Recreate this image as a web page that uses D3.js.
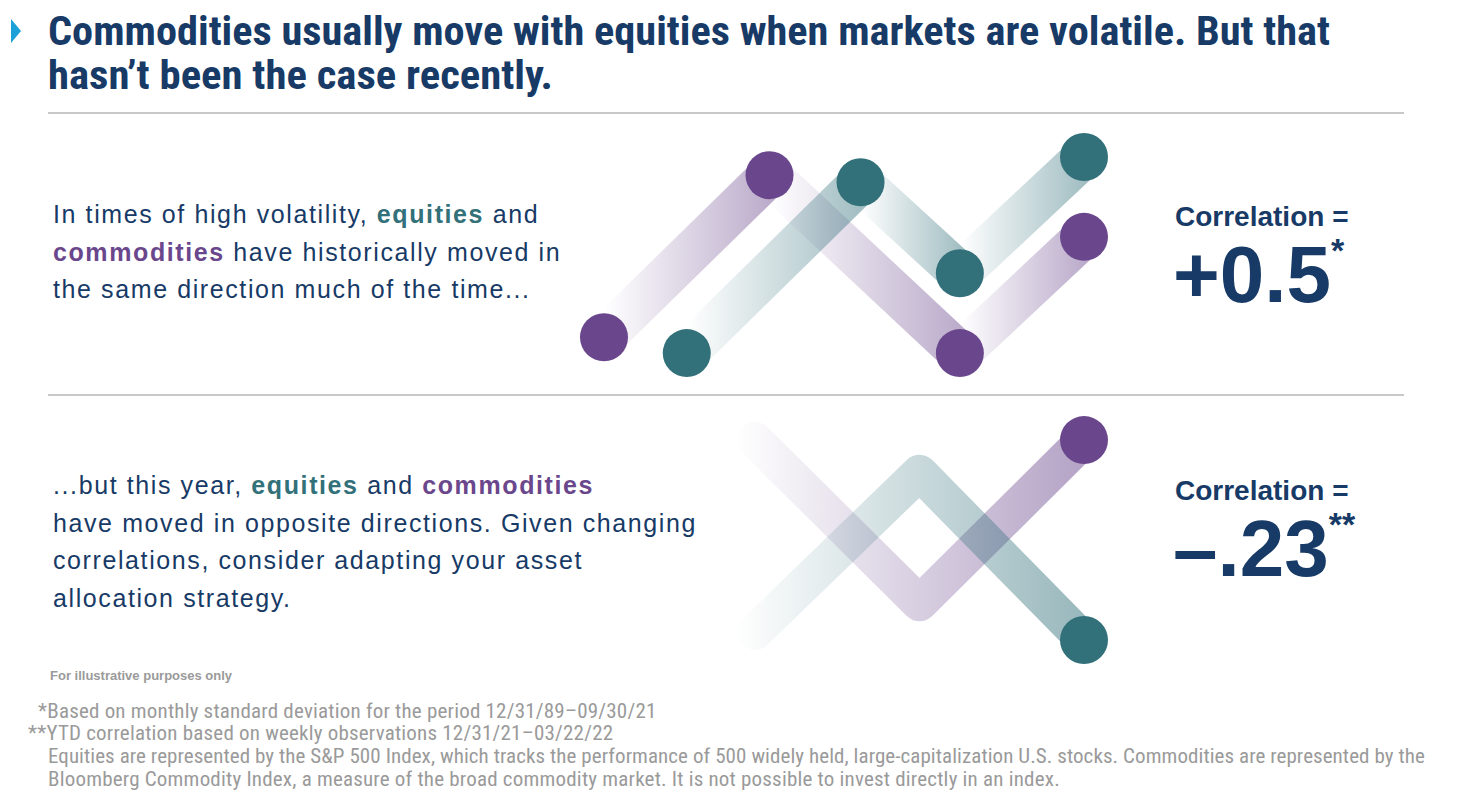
<!DOCTYPE html>
<html><head><meta charset="utf-8">
<script src="https://cdn.jsdelivr.net/npm/d3@7"></script>
<style>body{margin:0;background:#fff}</style>
</head><body>
<script>
// abstract positions of the illustrative lines (x step, level)
let topEqX = [0.5, 1.55, 2.15, 2.9], topEqY = [0.1, 2.26, 1.11, 2.58];
let topCoX = [0, 1, 2.15, 2.9],     topCoY = [0.3, 2.35, 0.1, 1.57];
let botEqX = [0, 1, 2],  botEqY = [0.1, 2.05, 0];
let botCoX = [0, 1, 2],  botCoY = [2.45, 0.45, 2.45];
let teal = "#32707a", purple = "#6a478c", navy = "#173a66", grey = "#9a9a9a";

let W = 1458, H = 802;
let svg = d3.select("body").append("svg").attr("width", W).attr("height", H)
            .style("font-family", "'Liberation Sans Narrow','Roboto Condensed','DejaVu Sans Condensed',sans-serif");
let defs = svg.append("defs");

let xTop = d3.scaleLinear().domain([0, 2.9]).range([604, 1084]);
let yTop = d3.scaleLinear().domain([0, 2.6]).range([361, 155.4]);
let xBot = d3.scaleLinear().domain([0, 2]).range([755, 1084]);
let yBot = d3.scaleLinear().domain([0, 2.5]).range([640, 436]);

let gid = 0;
function grad(color, x1, x2, op) {
  let id = "g" + (gid++);
  let g = defs.append("linearGradient").attr("id", id).attr("gradientUnits", "userSpaceOnUse")
    .attr("x1", x1).attr("x2", x2).attr("y1", 0).attr("y2", 0);
  g.append("stop").attr("offset", 0).attr("stop-color", color).attr("stop-opacity", 0);
  g.append("stop").attr("offset", 1).attr("stop-color", color).attr("stop-opacity", op);
  return "url(#" + id + ")";
}

// top: each segment fades in left-to-right
function topSeries(xs, ys, color) {
  for (let i = 0; i < xs.length - 1; i++) {
    let x1 = xTop(xs[i]), x2 = xTop(xs[i+1]);
    svg.append("line").attr("x1", x1).attr("y1", yTop(ys[i])).attr("x2", x2).attr("y2", yTop(ys[i+1]))
       .attr("stroke", grad(color, Math.min(x1,x2), Math.max(x1,x2), 0.45)).attr("stroke-width", 42);
  }
}
topSeries(topCoX, topCoY, purple);
topSeries(topEqX, topEqY, teal);
[[topCoX, topCoY, purple], [topEqX, topEqY, teal]].forEach(function(s) {
  svg.selectAll(null).data(s[0]).enter().append("circle")
     .attr("cx", d => xTop(d)).attr("cy", (d, i) => yTop(s[1][i])).attr("r", 24).attr("fill", s[2]);
});

// bottom: whole path fades in
let line = d3.line();
[[botCoX, botCoY, purple], [botEqX, botEqY, teal]].forEach(function(s) {
  let pts = s[0].map((d, i) => [xBot(d), yBot(s[1][i])]);
  svg.append("path").attr("d", line(pts)).attr("fill", "none")
     .attr("stroke", grad(s[2], xBot(0) - 20, xBot(2), 0.5)).attr("stroke-width", 36)
     .attr("stroke-linejoin", "round").attr("stroke-linecap", "round");
});
[[botCoX, botCoY, purple], [botEqX, botEqY, teal]].forEach(function(s) {
  let n = s[0].length - 1;
  svg.append("circle").attr("cx", xBot(s[0][n])).attr("cy", yBot(s[1][n])).attr("r", 24).attr("fill", s[2]);
});

// title
svg.append("path").attr("d", "M11,19 L21,31 L11,43 Z").attr("fill", "#1ba0d8");
let title = svg.append("text").attr("fill", navy).attr("font-weight", "bold").attr("font-size", 40);
title.append("tspan").attr("x", 48).attr("y", 45).attr("textLength", 1282).attr("lengthAdjust", "spacingAndGlyphs")
     .text("Commodities usually move with equities when markets are volatile. But that");
title.append("tspan").attr("x", 48).attr("y", 89).attr("textLength", 505).attr("lengthAdjust", "spacingAndGlyphs")
     .text("hasn’t been the case recently.");

svg.append("line").attr("x1", 48).attr("x2", 1404).attr("y1", 113).attr("y2", 113).attr("stroke", "#c8c8c8").attr("stroke-width", 2);
svg.append("line").attr("x1", 48).attr("x2", 1404).attr("y1", 395).attr("y2", 395).attr("stroke", "#c8c8c8").attr("stroke-width", 2);

let body = "'Liberation Sans','Arial',sans-serif";
function para(y0, lines) {
  let t = svg.append("text").attr("font-family", body).attr("font-size", 25).attr("letter-spacing", 1.6).attr("fill", navy);
  lines.forEach(function(l, i) {
    let ts = t.append("tspan").attr("x", 53).attr("y", y0 + i * 37.5);
    l.forEach(function(p) {
      let s = ts.append("tspan").text(p[0]);
      if (p[1]) s.attr("fill", p[1]).attr("font-weight", "bold");
    });
  });
}
para(223, [[["In times of high volatility, "], ["equities", teal], [" and"]],
           [["commodities", purple], [" have historically moved in"]],
           [["the same direction much of the time..."]]]);
para(494, [[["...but this year, "], ["equities", teal], [" and "], ["commodities", purple]],
           [["have moved in opposite directions. Given changing"]],
           [["correlations, consider adapting your asset"]],
           [["allocation strategy."]]]);

function corr(y, val, star) {
  svg.append("text").attr("x", 1175).attr("y", y).attr("font-family", body).attr("font-weight", "bold")
     .attr("font-size", 28).attr("fill", navy).text("Correlation =");
  let t = svg.append("text").attr("x", 1173).attr("y", y + 76).attr("font-family", body).attr("font-weight", "bold")
     .attr("font-size", 80).attr("fill", navy);
  t.append("tspan").text(val);
  t.append("tspan").attr("font-size", 34).attr("dy", -40).text(star);
}
corr(226, "+0.5", "*");
corr(500, "–.23", "**");

let foot = svg.append("g").attr("font-family", body).attr("fill", grey);
foot.append("text").attr("x", 50).attr("y", 680).attr("font-size", 13).attr("font-weight", "bold").text("For illustrative purposes only");
let fn = foot.append("text").attr("font-size", 21).attr("letter-spacing", 0.2);
fn.append("tspan").attr("x", 38).attr("y", 718).text("*Based on monthly standard deviation for the period 12/31/89–09/30/21");
fn.append("tspan").attr("x", 28).attr("y", 740).text("**YTD correlation based on weekly observations 12/31/21–03/22/22");
fn.append("tspan").attr("x", 48).attr("y", 763).attr("textLength", 1377).attr("lengthAdjust", "spacing")
  .text("Equities are represented by the S&P 500 Index, which tracks the performance of 500 widely held, large-capitalization U.S. stocks. Commodities are represented by the");
fn.append("tspan").attr("x", 48).attr("y", 786).text("Bloomberg Commodity Index, a measure of the broad commodity market. It is not possible to invest directly in an index.");
fn.attr("font-family", "'Liberation Sans Narrow','Roboto Condensed',sans-serif");
</script>
</body></html>
